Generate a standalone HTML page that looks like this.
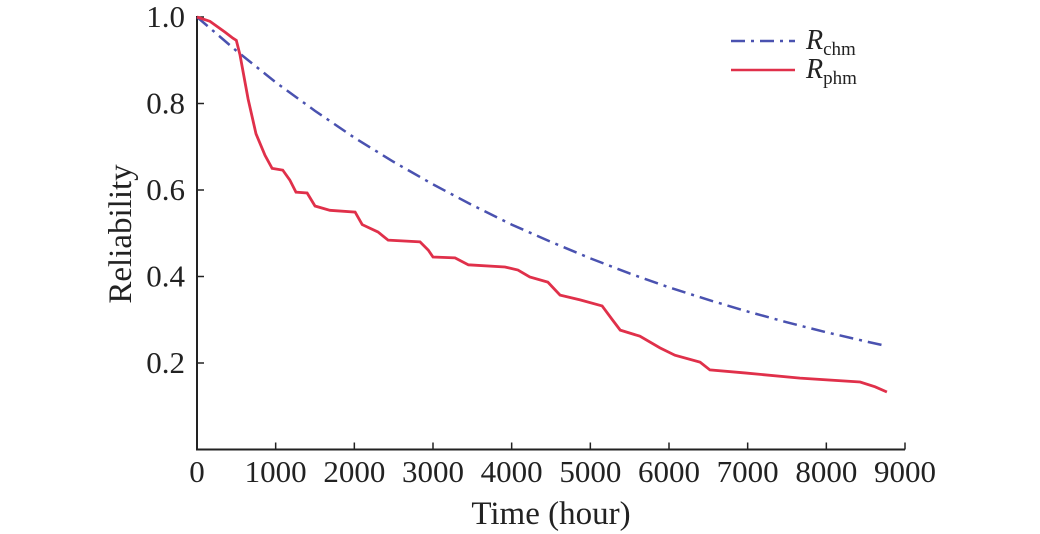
<!DOCTYPE html>
<html><head><meta charset="utf-8"><style>
body{margin:0;background:#fff;}
svg{display:block;font-family:"Liberation Serif",serif;}
</style></head><body>
<svg id="chart" width="1040" height="534" viewBox="0 0 1040 534"></svg>
<script>
const xTicks=[0,1000,2000,3000,4000,5000,6000,7000,8000,9000];
const yTicks=[0.2,0.4,0.6,0.8,1.0];
const chmT=[0,500,1000,1500,2000,2500,3000,3500,4000,4500,5000,5500,6000,6500,7000,7500,8000,8500,8750];
const chmR=[1,0.922,0.849,0.783,0.721,0.665,0.613,0.565,0.520,0.480,0.442,0.407,0.375,0.346,0.319,0.294,0.271,0.250,0.240];
const phmT=[0,165,356,457,500,547,650,750,865,955,1090,1180,1258,1400,1500,1690,2010,2100,2300,2430,2835,2940,3000,3280,3450,3915,4080,4230,4460,4615,4870,5150,5280,5380,5630,5885,6075,6395,6520,6965,7665,8430,8620,8770];
const phmR=[1,0.99,0.965,0.951,0.946,0.912,0.81,0.73,0.68,0.65,0.646,0.623,0.595,0.593,0.563,0.553,0.549,0.52,0.503,0.484,0.48,0.461,0.445,0.443,0.427,0.422,0.415,0.399,0.387,0.357,0.346,0.332,0.30,0.276,0.262,0.235,0.218,0.202,0.184,0.177,0.165,0.156,0.145,0.133];
const X0=197,X1=905,Y0=449.5,Y1=17;
const xs=t=>X0+t/9000*(X1-X0);
const ys=r=>Y0-r*(Y0-Y1);
const svg=document.getElementById('chart');
const NS='http://www.w3.org/2000/svg';
function mk(tag,attrs,parent){const e=document.createElementNS(NS,tag);for(const k in attrs)e.setAttribute(k,attrs[k]);(parent||svg).appendChild(e);return e;}
let ax=mk('path',{d:`M${X0},${Y1-1}V${Y0}H${X1}`,fill:'none',stroke:'#222','stroke-width':2});


xTicks.forEach(t=>{
 let l=mk('line',{x1:xs(t),x2:xs(t),y1:Y0,y2:Y0-7,stroke:'#222','stroke-width':1.5});
 
 
 let tx=mk('text',{x:xs(t),y:482,'font-size':31,'text-anchor':'middle',fill:'#222'});
 tx.textContent=t;
 
 
});
yTicks.forEach(v=>{
 let l=mk('line',{x1:X0,x2:X0+7,y1:ys(v),y2:ys(v),stroke:'#222','stroke-width':1.5});
 
 
 let tx=mk('text',{x:185,y:ys(v)+10,'font-size':31,'text-anchor':'end',fill:'#222'});
 tx.textContent=v.toFixed(1);
 
 
});
let xt=mk('text',{x:551,y:524,'font-size':33,'text-anchor':'middle',fill:'#222'});
xt.textContent='Time (hour)';


let yt=mk('text',{x:0,y:0,'font-size':33,'text-anchor':'middle',fill:'#222',transform:'translate(131,234) rotate(-90)'});
yt.textContent='Reliability';


let pb=mk('polyline',{points:chmT.map((t,i)=>xs(t)+','+ys(chmR[i])).join(' '),fill:'none',stroke:'#4a52b0','stroke-width':2.5,'stroke-dasharray':'14,6,3,6'});


let pr=mk('polyline',{points:phmT.map((t,i)=>xs(t)+','+ys(phmR[i])).join(' '),fill:'none',stroke:'#e0304a','stroke-width':2.8});


let g=mk('g',{});


let l1=mk('line',{x1:731,x2:795,y1:41,y2:41,stroke:'#4a52b0','stroke-width':2.5,'stroke-dasharray':'14,6,3,6'},g);


let t1=mk('text',{x:806,y:49,'font-size':28,fill:'#222'},g);
t1.innerHTML='<tspan font-style="italic">R</tspan><tspan font-size="19" dy="6">chm</tspan>';


let l2=mk('line',{x1:731,x2:795,y1:70,y2:70,stroke:'#e0304a','stroke-width':2.5},g);


let t2=mk('text',{x:806,y:78,'font-size':28,fill:'#222'},g);
t2.innerHTML='<tspan font-style="italic">R</tspan><tspan font-size="19" dy="6">phm</tspan>';


</script>
</body></html>
